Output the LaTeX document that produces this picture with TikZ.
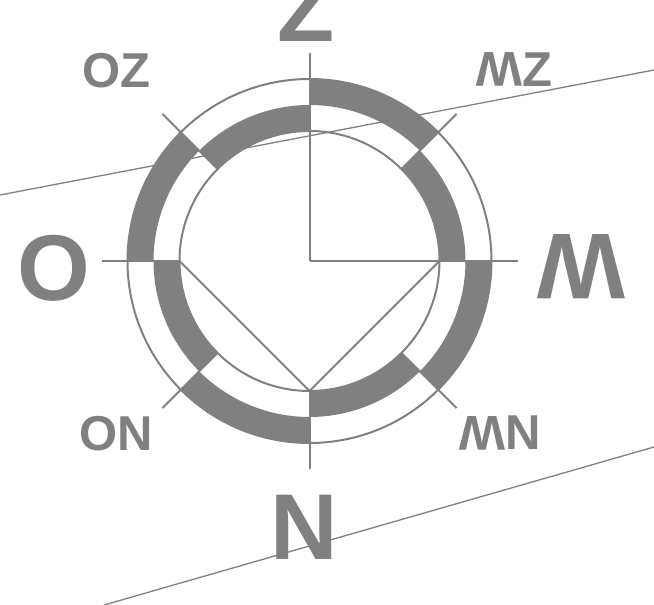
\documentclass[tikz,border=0pt]{standalone}
\usepackage{fontspec}
\usepackage{graphicx}
\setmainfont{Liberation Sans}
\definecolor{cg}{RGB}{128,128,128}
\tikzset{
  ring/.style={draw=cg, line width=2pt},
  tick/.style={draw=cg, line width=2pt},
  band/.style={fill=cg},
  longline/.style={draw=cg, line width=1.3pt},
  biglbl/.style={text=cg, inner sep=0pt, font=\fontsize{93.5}{100}\selectfont\bfseries},
  smalllbl/.style={text=cg, inner sep=0pt, font=\fontsize{49}{55}\selectfont\bfseries},
}
\newcommand{\invW}{\rotatebox[origin=c]{180}{W}}
\begin{document}
\begin{tikzpicture}[x=1pt,y=1pt]
\useasboundingbox (0,0) rectangle (654,605);
\clip (0,0) rectangle (654,605);
\coordinate (C) at (309.5,344);
\begin{scope}[shift={(C)}]
  % inner bands (r 130-156)
  \foreach \a in {0,90,180,270}{
    \fill[band] (\a:130pt) arc[start angle=\a, end angle=\a+45, radius=130pt]
      -- (\a+45:156pt) arc[start angle=\a+45, end angle=\a, radius=156pt] -- cycle;
  }
  % outer bands (r 156-182)
  \foreach \a in {45,135,225,315}{
    \fill[band] (\a:156pt) arc[start angle=\a, end angle=\a+45, radius=156pt]
      -- (\a+45:182pt) arc[start angle=\a+45, end angle=\a, radius=182pt] -- cycle;
  }
  \draw[ring] (0,0) circle[radius=182pt];
  \draw[ring] (0,0) circle[radius=130pt];
  % ticks
  \coordinate (O0) at (0,0);
  \coordinate (top) at (90:208pt);
  \coordinate (right) at (0:208pt);
  \coordinate (lin) at (180:130pt);
  \coordinate (lout) at (180:208pt);
  \coordinate (bin) at (270:130pt);
  \coordinate (bout) at (270:208pt);
  \coordinate (rin) at (0:130pt);
  \draw[tick] (O0) -- (top);
  \draw[tick] (O0) -- (right);
  \draw[tick] (lin) -- (lout);
  \draw[tick] (bin) -- (bout);
  \foreach \a in {45,135,225,315}{
    \draw[tick] (\a:130pt) -- (\a:208pt);
  }
  \draw[tick] (lin) -- (bin) -- (rin);
\end{scope}
% long lines
\coordinate (l1a) at (0,410);
\coordinate (l1b) at (654,535);
\coordinate (l2a) at (104,0);
\coordinate (l2b) at (654,158);
\draw[longline] (l1a) -- (l1b);
\draw[longline] (l2a) -- (l2b);
% labels
\node[biglbl, anchor=base] (Z) at (306,563.3) {Z};
\node[biglbl, anchor=base] (N) at (304.2,45) {N};
\node[biglbl, anchor=base] (Ol) at (54,304) {O};
\node[biglbl, anchor=center] (M) at (581.7,338.3) {\invW};
\node[smalllbl, anchor=base] (OZ) at (116.5,517) {OZ};
\node[smalllbl, anchor=base] (MZ) at (514,518.3) {\invW Z};
\node[smalllbl, anchor=base] (MN) at (500,155) {\invW N};
\node[smalllbl, anchor=base] (ON) at (116.5,154) {ON};
\end{tikzpicture}
\end{document}
